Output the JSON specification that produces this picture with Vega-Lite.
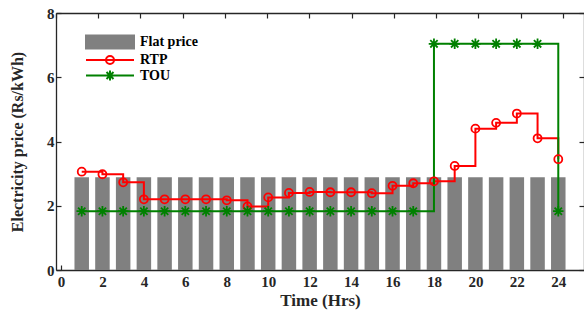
{
  "$schema": "https://vega.github.io/schema/vega-lite/v6.json",
  "width": 528,
  "height": 257,
  "autosize": {"type": "none"},
  "padding": {"left": 56, "top": 13, "right": 0, "bottom": 43},
  "background": "white",
  "config": {
    "font": "Liberation Serif",
    "view": {"stroke": null},
    "axis": {
      "labelFont": "Liberation Serif",
      "labelFontSize": 15,
      "labelFontWeight": "bold",
      "labelColor": "#262626",
      "titleFont": "Liberation Serif",
      "titleFontSize": 16,
      "titleFontWeight": "bold",
      "titleColor": "#262626",
      "domainColor": "#262626",
      "domainWidth": 1.3,
      "tickColor": "#262626",
      "tickWidth": 1.2,
      "tickSize": -5,
      "grid": false
    }
  },
  "datasets": {
    "prices": [
      {"series": "Flat price", "hour": 1, "price": 2.89},
      {"series": "Flat price", "hour": 2, "price": 2.89},
      {"series": "Flat price", "hour": 3, "price": 2.89},
      {"series": "Flat price", "hour": 4, "price": 2.89},
      {"series": "Flat price", "hour": 5, "price": 2.89},
      {"series": "Flat price", "hour": 6, "price": 2.89},
      {"series": "Flat price", "hour": 7, "price": 2.89},
      {"series": "Flat price", "hour": 8, "price": 2.89},
      {"series": "Flat price", "hour": 9, "price": 2.89},
      {"series": "Flat price", "hour": 10, "price": 2.89},
      {"series": "Flat price", "hour": 11, "price": 2.89},
      {"series": "Flat price", "hour": 12, "price": 2.89},
      {"series": "Flat price", "hour": 13, "price": 2.89},
      {"series": "Flat price", "hour": 14, "price": 2.89},
      {"series": "Flat price", "hour": 15, "price": 2.89},
      {"series": "Flat price", "hour": 16, "price": 2.89},
      {"series": "Flat price", "hour": 17, "price": 2.89},
      {"series": "Flat price", "hour": 18, "price": 2.89},
      {"series": "Flat price", "hour": 19, "price": 2.89},
      {"series": "Flat price", "hour": 20, "price": 2.89},
      {"series": "Flat price", "hour": 21, "price": 2.89},
      {"series": "Flat price", "hour": 22, "price": 2.89},
      {"series": "Flat price", "hour": 23, "price": 2.89},
      {"series": "Flat price", "hour": 24, "price": 2.89},
      {"series": "RTP", "hour": 1, "price": 3.06},
      {"series": "RTP", "hour": 2, "price": 2.98},
      {"series": "RTP", "hour": 3, "price": 2.73},
      {"series": "RTP", "hour": 4, "price": 2.2},
      {"series": "RTP", "hour": 5, "price": 2.2},
      {"series": "RTP", "hour": 6, "price": 2.2},
      {"series": "RTP", "hour": 7, "price": 2.2},
      {"series": "RTP", "hour": 8, "price": 2.17},
      {"series": "RTP", "hour": 9, "price": 1.98},
      {"series": "RTP", "hour": 10, "price": 2.26},
      {"series": "RTP", "hour": 11, "price": 2.4},
      {"series": "RTP", "hour": 12, "price": 2.43},
      {"series": "RTP", "hour": 13, "price": 2.42},
      {"series": "RTP", "hour": 14, "price": 2.42},
      {"series": "RTP", "hour": 15, "price": 2.39},
      {"series": "RTP", "hour": 16, "price": 2.62},
      {"series": "RTP", "hour": 17, "price": 2.7},
      {"series": "RTP", "hour": 18, "price": 2.76},
      {"series": "RTP", "hour": 19, "price": 3.24},
      {"series": "RTP", "hour": 20, "price": 4.4},
      {"series": "RTP", "hour": 21, "price": 4.58},
      {"series": "RTP", "hour": 22, "price": 4.87},
      {"series": "RTP", "hour": 23, "price": 4.1},
      {"series": "RTP", "hour": 24, "price": 3.45},
      {"series": "TOU", "hour": 1, "price": 1.83},
      {"series": "TOU", "hour": 2, "price": 1.83},
      {"series": "TOU", "hour": 3, "price": 1.83},
      {"series": "TOU", "hour": 4, "price": 1.83},
      {"series": "TOU", "hour": 5, "price": 1.83},
      {"series": "TOU", "hour": 6, "price": 1.83},
      {"series": "TOU", "hour": 7, "price": 1.83},
      {"series": "TOU", "hour": 8, "price": 1.83},
      {"series": "TOU", "hour": 9, "price": 1.83},
      {"series": "TOU", "hour": 10, "price": 1.83},
      {"series": "TOU", "hour": 11, "price": 1.83},
      {"series": "TOU", "hour": 12, "price": 1.83},
      {"series": "TOU", "hour": 13, "price": 1.83},
      {"series": "TOU", "hour": 14, "price": 1.83},
      {"series": "TOU", "hour": 15, "price": 1.83},
      {"series": "TOU", "hour": 16, "price": 1.83},
      {"series": "TOU", "hour": 17, "price": 1.83},
      {"series": "TOU", "hour": 18, "price": 7.04},
      {"series": "TOU", "hour": 19, "price": 7.04},
      {"series": "TOU", "hour": 20, "price": 7.04},
      {"series": "TOU", "hour": 21, "price": 7.04},
      {"series": "TOU", "hour": 22, "price": 7.04},
      {"series": "TOU", "hour": 23, "price": 7.04},
      {"series": "TOU", "hour": 24, "price": 1.83}
    ]
  },
  "data": {"name": "prices"},
  "layer": [
    {
      "encoding": {
        "x": {
          "field": "hour",
          "type": "quantitative",
          "scale": {"domain": [0, 25], "nice": false},
          "axis": {"orient": "bottom", "values": [0, 2, 4, 6, 8, 10, 12, 14, 16, 18, 20, 22, 24], "title": "Time (Hrs)", "titleFontSize": 17, "labelPadding": 9, "titlePadding": 3}
        },
        "y": {
          "field": "price",
          "type": "quantitative",
          "scale": {"domain": [0, 8], "nice": false},
          "axis": {"orient": "left", "values": [0, 2, 4, 6, 8], "title": "Electricity price (Rs/kWh)", "labelPadding": 7, "titlePadding": 21}
        },
        "color": {
          "field": "series",
          "type": "nominal",
          "scale": {"domain": ["Flat price", "RTP", "TOU"], "range": ["#808080", "#ff0000", "#008000"]},
          "legend": {
            "title": null,
            "orient": "none",
            "legendX": 28,
            "legendY": 22,
            "padding": 0,
            "labelFont": "Liberation Serif",
            "labelFontSize": 14,
            "labelFontWeight": "bold",
            "labelColor": "#000000",
            "labelOffset": 42,
            "symbolSize": 100,
            "rowPadding": -1.5,
            "encode": {
              "symbols": {
                "update": {
                  "shape": {"signal": "datum.value === 'Flat price' ? 'M-1,-1.3H8.6V1.3H-1Z' : datum.value === 'RTP' ? 'M-1,0H8.6M3,0A0.8,0.8 0 1,0 4.6,0A0.8,0.8 0 1,0 3,0' : 'M-1,0H8.6M2.8,0H4.8M3.8,-1V1M3.1,-0.7L4.5,0.7M3.1,0.7L4.5,-0.7'"},
                  "size": {"value": 100},
                  "fillOpacity": {"signal": "datum.value === 'Flat price' ? 1 : 0"},
                  "stroke": {"signal": "datum.value === 'Flat price' ? 'transparent' : datum.value === 'RTP' ? '#ff0000' : '#008000'"},
                  "strokeWidth": {"value": 2}
                }
              }
            }
          }
        }
      },
      "layer": [
        {
          "transform": [{"filter": "datum.series === 'Flat price'"}],
          "mark": {"type": "bar", "width": 14.5, "opacity": 1}
        },
        {
          "transform": [{"filter": "datum.series === 'RTP'"}],
          "mark": {"type": "line", "interpolate": "step-after", "strokeWidth": 2}
        },
        {
          "transform": [{"filter": "datum.series === 'TOU'"}],
          "mark": {"type": "line", "interpolate": "step-after", "strokeWidth": 2}
        },
        {
          "transform": [{"filter": "datum.series === 'RTP'"}],
          "mark": {"type": "point", "shape": "circle", "filled": false, "size": 64, "strokeWidth": 1.8, "opacity": 1}
        },
        {
          "transform": [{"filter": "datum.series === 'TOU'"}],
          "mark": {"type": "point", "shape": "M-1,0H1M0,-1V1M-0.7,-0.7L0.7,0.7M-0.7,0.7L0.7,-0.7", "filled": false, "size": 110, "strokeWidth": 1.8, "opacity": 1}
        }
      ]
    },
    {
      "transform": [{"filter": "datum.series === 'Flat price'"}],
      "mark": {"type": "point", "opacity": 0},
      "encoding": {
        "x": {
          "field": "hour",
          "type": "quantitative",
          "scale": {"domain": [0, 25], "nice": false},
          "axis": {"orient": "top", "values": [0, 2, 4, 6, 8, 10, 12, 14, 16, 18, 20, 22, 24], "labels": false, "title": null}
        },
        "y": {
          "field": "price",
          "type": "quantitative",
          "scale": {"domain": [0, 8], "nice": false},
          "axis": {"orient": "right", "values": [0, 2, 4, 6, 8], "labels": false, "title": null}
        }
      }
    }
  ],
  "resolve": {"scale": {"x": "independent", "y": "independent"}}
}
